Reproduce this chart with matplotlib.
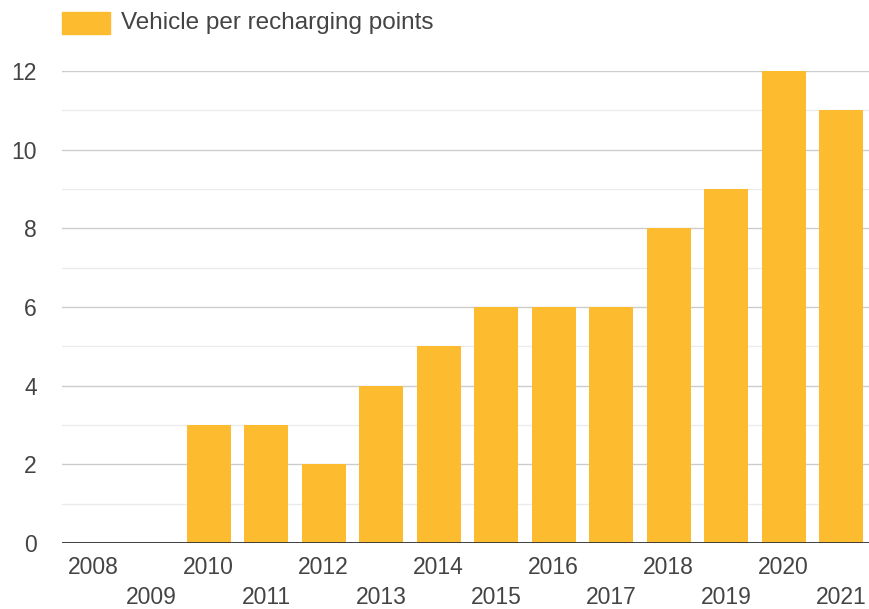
import matplotlib
matplotlib.use("Agg")
import matplotlib.pyplot as plt
from matplotlib.patches import Rectangle
from matplotlib.transforms import blended_transform_factory

plt.rcParams["font.family"] = ["Liberation Sans", "DejaVu Sans"]

years = [str(y) for y in range(2008, 2022)]
vehicles_per_point = [0, 0, 3, 3, 2, 4, 5, 6, 6, 6, 8, 9, 12, 11]
series_name = "Vehicle per recharging points"

BAR = "#FDBB30"
TXT = "#444444"

fig = plt.figure(figsize=(8.7, 6.09), dpi=100)
ax = fig.add_axes([62 / 870, 1 - 543 / 609, 808 / 870, (543 - 71) / 609])

x = list(range(len(years)))
ax.bar(x, vehicles_per_point, width=0.77, color=BAR, zorder=3)

ax.set_xlim(-0.55, len(years) - 0.5)
ax.set_ylim(0, 12)

# major grid every 2, lighter minor lines in between
ax.set_yticks(range(0, 13, 2))
ax.set_yticks(range(1, 13, 2), minor=True)
ax.grid(True, axis="y", which="major", color="#cccccc", lw=1, zorder=1)
ax.grid(True, axis="y", which="minor", color="#ebebeb", lw=1, zorder=1)
ax.axhline(0, color="#333333", lw=1.3, zorder=4)
for s in ax.spines.values():
    s.set_visible(False)
ax.tick_params(axis="y", which="both", length=0, pad=18, labelsize=16.5, labelcolor=TXT)
ax.set_xticks([])

# staggered year labels, even positions on the first row
tr = blended_transform_factory(ax.transData, fig.transFigure)
for i, yr in enumerate(years):
    ty = 567.5 if i % 2 == 0 else 597.5
    ax.text(i, 1 - ty / 609, yr, transform=tr, fontsize=16.5, color=TXT,
            ha="center", va="center")

# legend swatch and label
fig.patches.append(Rectangle((62 / 870, 1 - 34 / 609), 48 / 870, 22 / 609,
                             transform=fig.transFigure, color=BAR))
fig.text(121 / 870, 1 - 23 / 609, series_name, fontsize=17.5, color=TXT,
         ha="left", va="center")

fig.savefig("out.png", dpi=100)
